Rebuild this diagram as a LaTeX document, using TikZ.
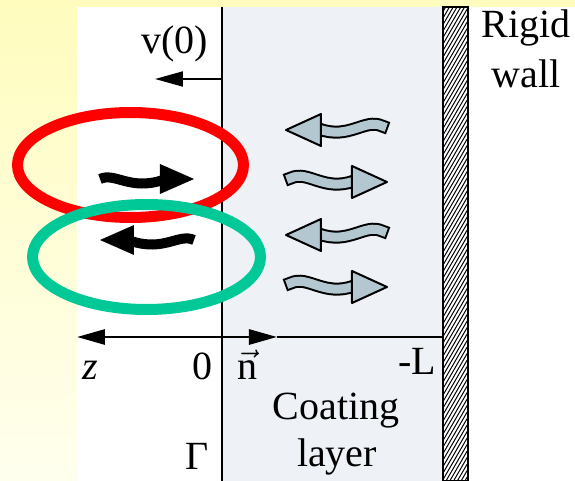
\documentclass[tikz,border=0pt]{standalone}
\usepackage{fontspec}
\setmainfont{Liberation Serif}
\usetikzlibrary{arrows.meta}

\definecolor{coatcol}{RGB}{238,241,246}
\definecolor{wavecol}{RGB}{178,199,207}
\definecolor{ringgreen}{RGB}{0,200,150}
\definecolor{bgtop}{RGB}{255,252,190}
\definecolor{bgbot}{RGB}{255,255,238}

\begin{document}
\begin{tikzpicture}[x=0.5pt,y=-0.5pt,
  lbl/.style={anchor=base,inner sep=0pt,font=\rmfamily},
  tip/.style={-{Triangle[length=14pt,width=7.5pt]}},
  blackwave/.pic={
    \draw[line width=5pt] (0,0) .. controls (15,-7) and (30,12) .. (63,1);
    \fill (60,-15) -- (94,0) -- (60,15) -- cycle;},
  graywave/.pic={
    \draw[line width=6.5pt,line cap=rect] (3,0) .. controls (20,-8) and (36,14) .. (66,3);
    \draw[wavecol,line width=4.5pt,line cap=rect] (3,0) .. controls (20,-8) and (36,14) .. (66,3);
    \filldraw[fill=wavecol,line width=1pt,line join=round] (64,-12) -- (99,4) -- (64,20) -- cycle;}]
\fontsize{20}{24}\selectfont
\useasboundingbox (0,0) rectangle (575,481);
\shade[top color=bgtop,bottom color=bgbot] (0,0) rectangle (575,481);
\fill[white] (77,7) rectangle (575,481);
\fill[coatcol] (222,7) rectangle (443,481);
\coordinate (gtop) at (222,7);
\coordinate (gbot) at (222,481);
\coordinate (vfoot) at (222,79);
\coordinate (vtip) at (155,79);
\coordinate (axl) at (77,337);
\coordinate (ax0) at (222,337);
\coordinate (ntip) at (277,337);
\coordinate (axr) at (443,337);
\draw[line width=1.3pt] (gtop) -- (gbot);
\draw[line width=1pt,tip] (vfoot) -- (vtip);
\draw[line width=1.4pt,tip] (ax0) -- (axl);
\draw[line width=1.4pt,tip] (ax0) -- (ntip);
\draw[line width=1.4pt] (ntip) -- (axr);
\fill (443,7) rectangle (468,481);
\begin{scope}
\clip (443,7) rectangle (468,481);
\foreach \y in {7,13.5,...,545}
  \draw[white,line width=1pt] (440,\y) -- (472,\y-55);
\end{scope}
\draw[line width=1.2pt] (443,7) rectangle (468,481);
\pic at (100,179) {blackwave};
\pic[xscale=-1] at (194,240) {blackwave};
\pic[xscale=-1] at (385,126) {graywave};
\pic at (288,178) {graywave};
\pic[xscale=-1] at (385,231) {graywave};
\pic at (288,283) {graywave};
\draw[red,line width=5.5pt] (130.5,165) ellipse [x radius=56.5pt,y radius=26.25pt];
\draw[ringgreen,line width=5.5pt] (146.5,257) ellipse [x radius=57pt,y radius=26.25pt];
\node[lbl] (vzero) at (175,54) {v(0)};
\node[lbl] (rigid) at (526,38) {Rigid};
\node[lbl] (wall) at (526,88) {wall};
\node[lbl] (zlab) at (90,380) {\textit{z}};
\node[lbl] (orig) at (202,380) {0};
\node[lbl] (nlab) at (247,380) {$\vec{\textrm{n}}$};
\node[lbl] (minusL) at (417,375) {-L};
\node[lbl] (coat) at (336,420) {Coating};
\node[lbl] (layer) at (337,467) {layer};
\node[lbl] (gam) at (197,470) {Γ};
\end{tikzpicture}
\end{document}
